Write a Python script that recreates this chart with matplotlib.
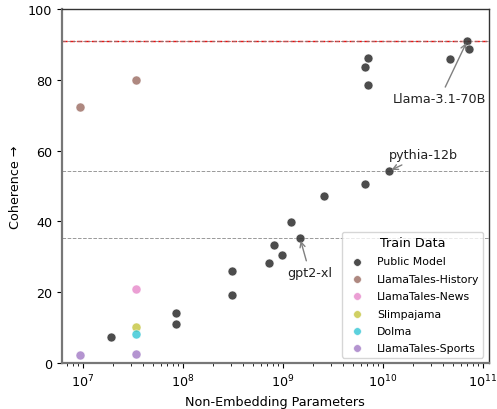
import numpy as np
import matplotlib
matplotlib.use('Agg')
from matplotlib import pyplot as plt

# public models: non-embedding params, coherence
pub_params = [1.9e7, 8.6e7, 8.6e7, 3.1e8, 3.1e8, 7.2e8, 8.1e8, 9.8e8, 1.2e9,
              1.48e9, 2.6e9, 6.6e9, 6.6e9, 7.1e9, 7.1e9, 1.15e10, 4.7e10,
              7.0e10, 7.2e10]
pub_coh = [7.4, 14.0, 11.0, 26.0, 19.3, 28.3, 33.4, 30.6, 39.8,
           35.3, 47.2, 50.6, 83.7, 86.3, 78.4, 54.2, 86.0,
           91.1, 88.6]

# small models trained on one dataset
train_sets = ['LlamaTales-History', 'LlamaTales-News', 'Slimpajama',
              'Dolma', 'LlamaTales-Sports']
small_params = {
    'LlamaTales-History': [9.4e6, 3.4e7],
    'LlamaTales-News': [3.4e7],
    'Slimpajama': [3.4e7],
    'Dolma': [3.4e7],
    'LlamaTales-Sports': [9.4e6, 3.4e7],
}
small_coh = {
    'LlamaTales-History': [72.3, 80.0],
    'LlamaTales-News': [20.8],
    'Slimpajama': [10.2],
    'Dolma': [8.2],
    'LlamaTales-Sports': [2.3, 2.6],
}
colors = {
    'LlamaTales-History': '#8c564b',
    'LlamaTales-News': '#e377c2',
    'Slimpajama': '#bcbd22',
    'Dolma': '#17becf',
    'LlamaTales-Sports': '#9467bd',
}

# labelled models: name, index into public lists, text offset (points)
labels = [('Llama-3.1-70B', 17, (-20, -42)),
          ('pythia-12b', 15, (25, 12)),
          ('gpt2-xl', 9, (7, -25))]

fig = plt.figure(figsize=(4.97, 4.10), dpi=100)
ax = fig.add_axes([0.1247, 0.1122, 0.859, 0.8634])

ax.scatter(pub_params, pub_coh, s=42, color='#333333', alpha=0.88,
           edgecolors='white', linewidths=0.5, label='Public Model', zorder=3)
for name in train_sets:
    ax.scatter(small_params[name], small_coh[name], s=42, color=colors[name],
               alpha=0.7, edgecolors='white', linewidths=0.5, label=name, zorder=3)

ax.axhline(pub_coh[17], color='red', ls='--', lw=1.0, zorder=1)
for name, i, off in labels:
    ax.axhline(pub_coh[i], color='gray', ls='--', lw=0.7, alpha=0.8, zorder=1)
    ax.annotate(name, (pub_params[i], pub_coh[i]), xytext=off,
                textcoords='offset points', ha='center', va='center',
                fontsize=9.2, color='#222222',
                arrowprops=dict(arrowstyle='->', color='gray', lw=1.0))

ax.set_xscale('log')
ax.set_xlim(10**6.79, 10**11.06)
ax.set_ylim(0, 100)
ax.set_xlabel('Non-Embedding Parameters', fontsize=9.2)
ax.set_ylabel('Coherence →', fontsize=9.2)
ax.tick_params(labelsize=9.2)

for side in ['left', 'bottom']:
    ax.spines[side].set_color('#777777')
    ax.spines[side].set_linewidth(1.6)
for side in ['top', 'right']:
    ax.spines[side].set_color('#333333')
    ax.spines[side].set_linewidth(1.0)

ax.legend(title='Train Data', loc='lower right', fontsize=7.8,
          title_fontsize=9.2, borderaxespad=0.5, markerscale=0.85,
          labelspacing=0.68)

fig.savefig('out.png', dpi=100)
